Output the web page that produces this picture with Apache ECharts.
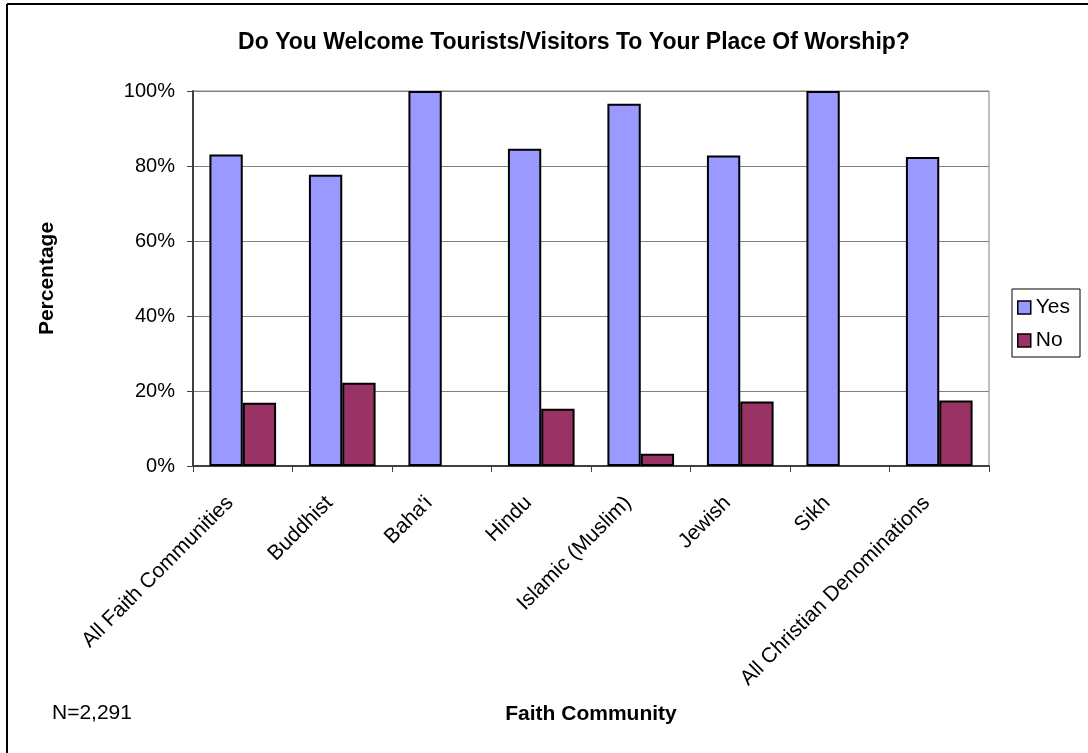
<!DOCTYPE html>
<html>
<head>
<meta charset="utf-8">
<script src="https://cdn.jsdelivr.net/npm/echarts@6/dist/echarts.min.js"></script>
<style>html,body{margin:0;padding:0;background:#fff}#c{width:1088px;height:753px}</style>
</head>
<body>
<div id="c"></div>
<script>
const categories = ["All Faith Communities","Buddhist","Baha'i","Hindu","Islamic (Muslim)","Jewish","Sikh","All Christian Denominations"];
const yesValues = [83.1, 77.7, 100, 84.6, 96.6, 82.8, 100, 82.4];
const noValues = [16.9, 22.2, 0, 15.3, 3.3, 17.2, 0, 17.5];
const yTicks = [0, 20, 40, 60, 80, 100];

const FONT = 'Arial, "Liberation Sans", sans-serif';
const toData = arr => arr.map(v => v === 0 ? {value: v, itemStyle: {borderWidth: 0}} : v);
const chart = echarts.init(document.getElementById('c'), null, {renderer: 'canvas'});
chart.setOption({
  backgroundColor: '#ffffff',
  animation: false,
  title: {
    text: 'Do You Welcome Tourists/Visitors To Your Place Of Worship?',
    left: 569, top: 26, textAlign: 'center',
    textStyle: {fontFamily: FONT, fontSize: 23, fontWeight: 'bold', color: '#000'}
  },
  legend: {
    orient: 'vertical', left: 1012, top: 289,
    padding: [8, 10, 6, 5],
    borderColor: '#000', borderWidth: 1,
    itemWidth: 13, itemHeight: 13, itemGap: 12,
    icon: 'rect',
    itemStyle: {borderColor: '#000', borderWidth: 1.5},
    textStyle: {fontFamily: FONT, fontSize: 21, color: '#000'},
    data: ['Yes', 'No']
  },
  grid: {left: 193, right: 99, top: 91, bottom: 287, show: true, borderColor: '#808080', borderWidth: 1},
  xAxis: {
    type: 'category', data: categories,
    name: 'Faith Community', nameLocation: 'middle', nameGap: 238,
    nameTextStyle: {fontFamily: FONT, fontSize: 21, fontWeight: 'bold', color: '#000'},
    axisLine: {lineStyle: {color: '#404040', width: 2}},
    axisTick: {show: true, alignWithLabel: false, length: 6, lineStyle: {color: '#404040', width: 1}},
    axisLabel: {rotate: 45, interval: 0, margin: 21, padding: [0, 18, 0, 0], fontFamily: FONT, fontSize: 21, color: '#000'}
  },
  yAxis: {
    type: 'value', min: 0, max: 100, interval: 20,
    name: 'Percentage', nameLocation: 'middle', nameGap: 135, nameRotate: 90,
    nameTextStyle: {fontFamily: FONT, fontSize: 21, fontWeight: 'bold', color: '#000'},
    axisLine: {show: true, lineStyle: {color: '#404040', width: 2}},
    axisTick: {show: true, length: 6, lineStyle: {color: '#404040'}},
    splitLine: {show: true, lineStyle: {color: '#808080', width: 1}},
    axisLabel: {margin: 18, fontFamily: FONT, fontSize: 20, color: '#000',
      formatter: v => yTicks.includes(v) ? v + '%' : ''}
  },
  series: [
    {name: 'Yes', type: 'bar', data: toData(yesValues), barGap: '0%', barCategoryGap: '33%',
     itemStyle: {color: '#9999FF', borderColor: '#000', borderWidth: 2}},
    {name: 'No', type: 'bar', data: toData(noValues),
     itemStyle: {color: '#993366', borderColor: '#000', borderWidth: 2}}
  ],
  graphic: [
    {type: 'line', shape: {x1: 7, y1: 4, x2: 1088, y2: 4}, style: {stroke: '#000', lineWidth: 2}},
    {type: 'line', shape: {x1: 7, y1: 4, x2: 7, y2: 753}, style: {stroke: '#000', lineWidth: 2}},
    {type: 'text', left: 52, top: 703, style: {text: 'N=2,291', font: '21px ' + FONT, fill: '#000'}}
  ]
});
</script>
</body>
</html>
